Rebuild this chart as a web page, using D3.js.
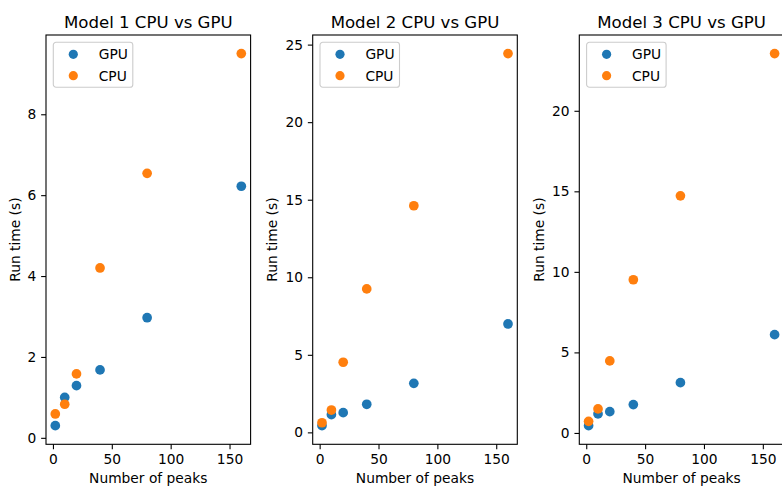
<!DOCTYPE html>
<html><head><meta charset="utf-8">
<script src="https://cdn.jsdelivr.net/npm/d3@7"></script>
<style>
body{margin:0;background:#fff;}
svg{display:block;font-family:"DejaVu Sans",sans-serif;}
</style></head>
<body>
<svg id="c" width="782" height="486"></svg>
<script>
const peaks = [2, 10, 20, 40, 80, 160];
const titles = ["Model 1 CPU vs GPU", "Model 2 CPU vs GPU", "Model 3 CPU vs GPU"];
const gpu1 = [0.30, 1.00, 1.29, 1.68, 2.97, 6.22];
const cpu1 = [0.59, 0.83, 1.58, 4.20, 6.54, 9.50];
const gpu2 = [0.43, 1.14, 1.27, 1.81, 3.16, 6.99];
const cpu2 = [0.62, 1.44, 4.52, 9.25, 14.61, 24.42];
const gpu3 = [0.45, 1.18, 1.32, 1.76, 3.12, 6.10];
const cpu3 = [0.72, 1.49, 4.47, 9.51, 14.72, 23.55];
const xTicks = [0, 50, 100, 150];
const yTicks1 = [0, 2, 4, 6, 8];
const yTicks2 = [0, 5, 10, 15, 20, 25];
const yTicks3 = [0, 5, 10, 15, 20];
const seriesNames = ["GPU", "CPU"];

(function(){
const colors = ["#1f77b4", "#ff7f0e"];
const panels = [
  {title: titles[0], gpu: gpu1, cpu: cpu1, yTicks: yTicks1, left: 46, ylabX: 19.5},
  {title: titles[1], gpu: gpu2, cpu: cpu2, yTicks: yTicks2, left: 312.7, ylabX: 277},
  {title: titles[2], gpu: gpu3, cpu: cpu3, yTicks: yTicks3, left: 579.3, ylabX: 543.5}
];
const W = 204.6, axTop = 35, axBottom = 444.3;
const fs = 13.8, tfs = 16.6, tick = 4.86, pad = 4.86, lw = 1.1, r = 4.85, lr = 4.6;
const svg = d3.select("#c");

function pad5(ext){ const d = ext[1]-ext[0]; return [ext[0]-0.05*d, ext[1]+0.05*d]; }

panels.forEach(p => {
  const x = d3.scaleLinear().domain(pad5(d3.extent(peaks))).range([p.left, p.left+W]);
  const yExt = d3.extent(p.gpu.concat(p.cpu));
  const y = d3.scaleLinear().domain(pad5(yExt)).range([axBottom, axTop]);
  const g = svg.append("g");

  const xa = g.append("g").attr("transform", `translate(0,${axBottom})`)
    .call(d3.axisBottom(x).tickValues(xTicks).tickSize(tick).tickPadding(pad).tickSizeOuter(0));
  xa.select(".domain").remove();
  xa.selectAll("line").attr("stroke", "#000").attr("stroke-width", lw);
  xa.selectAll("text").attr("font-size", fs).attr("fill", "#000").attr("font-family", "DejaVu Sans");

  const ya = g.append("g").attr("transform", `translate(${p.left},0)`)
    .call(d3.axisLeft(y).tickValues(p.yTicks).tickSize(tick).tickPadding(pad).tickSizeOuter(0));
  ya.select(".domain").remove();
  ya.selectAll("line").attr("stroke", "#000").attr("stroke-width", lw);
  ya.selectAll("text").attr("font-size", fs).attr("fill", "#000").attr("font-family", "DejaVu Sans");

  [p.gpu, p.cpu].forEach((vals, si) => {
    g.append("g").selectAll("circle").data(vals).join("circle")
      .attr("cx", (d, i) => x(peaks[i])).attr("cy", d => y(d)).attr("r", r)
      .attr("fill", colors[si]);
  });

  g.append("rect").attr("x", p.left).attr("y", axTop).attr("width", W).attr("height", axBottom-axTop)
    .attr("fill", "none").attr("stroke", "#000").attr("stroke-width", lw);

  g.append("text").attr("x", p.left + W/2).attr("y", 28).attr("text-anchor", "middle")
    .attr("font-size", tfs).attr("fill", "#000").text(p.title);
  g.append("text").attr("x", p.left + W/2).attr("y", 483).attr("text-anchor", "middle")
    .attr("font-size", fs).attr("fill", "#000").text("Number of peaks");
  g.append("text").attr("transform", `translate(${p.ylabX},${(axTop+axBottom)/2}) rotate(-90)`)
    .attr("text-anchor", "middle").attr("font-size", fs).attr("fill", "#000").text("Run time (s)");

  const lg = g.append("g").attr("transform", `translate(${p.left+7.3},${axTop+7.3})`);
  lg.append("rect").attr("x", 0).attr("y", 0).attr("width", 79.5).attr("height", 45)
    .attr("rx", 2.8).attr("fill", "#fff").attr("fill-opacity", 0.8)
    .attr("stroke", "#cccccc").attr("stroke-width", 1.1);
  seriesNames.forEach((n, i) => {
    const cy = 12 + i*21.4;
    lg.append("circle").attr("cx", 20).attr("cy", cy).attr("r", lr).attr("fill", colors[i]);
    lg.append("text").attr("x", 45.4).attr("y", cy).attr("dy", "0.36em")
      .attr("font-size", fs).attr("fill", "#000").text(n);
  });
});
})();
</script>
</body></html>
